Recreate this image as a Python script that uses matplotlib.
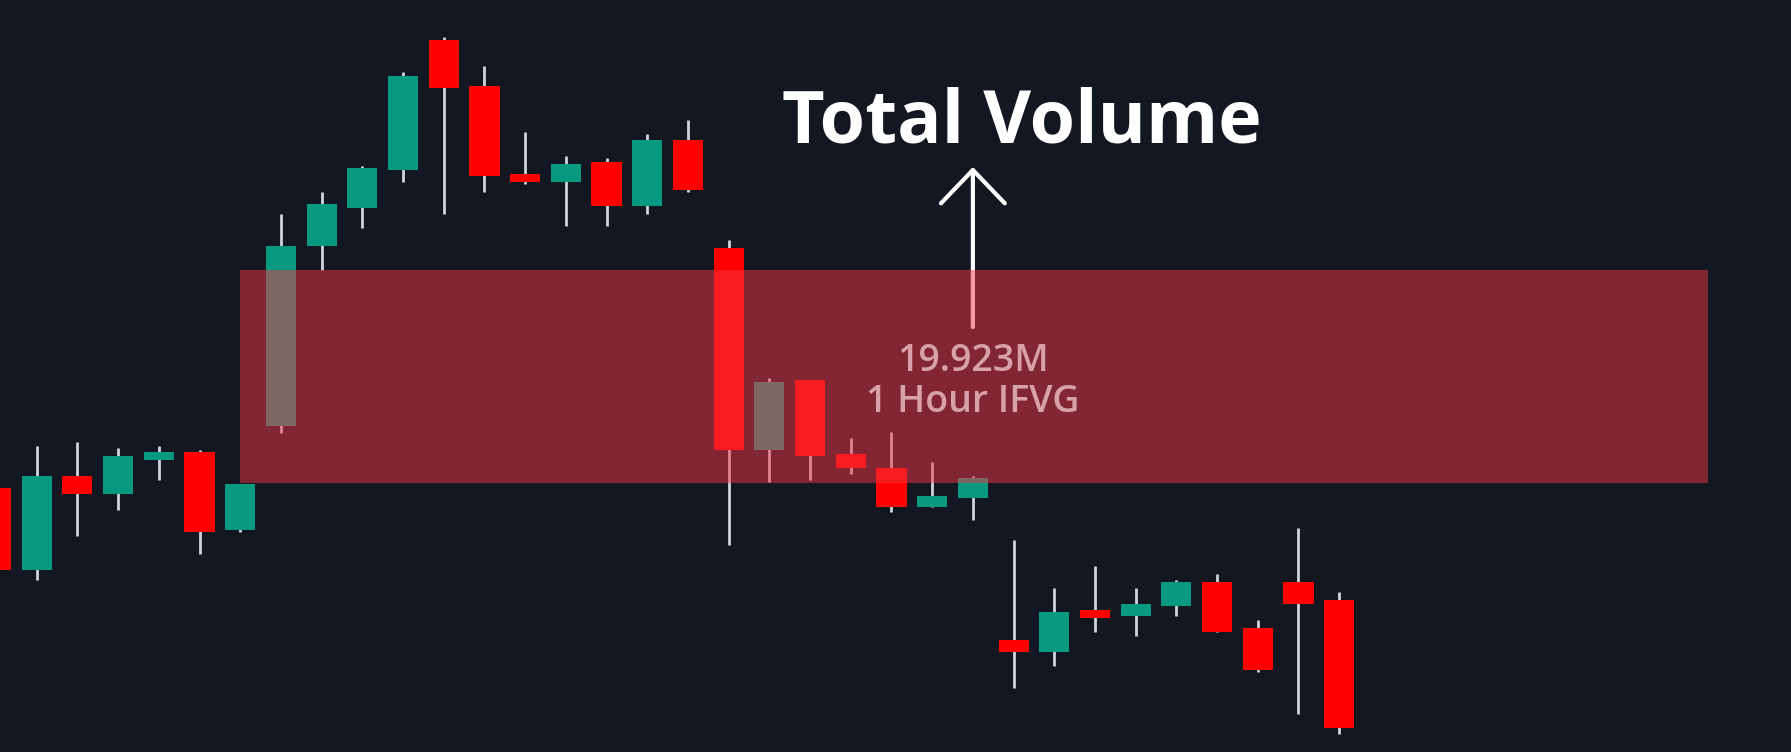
import numpy as np
import matplotlib
matplotlib.use("Agg")
from matplotlib import pyplot as plt
from matplotlib.patches import Rectangle

# candle data
opens  = [226.4, 218.2, 227.6, 225.8, 229.2, 230.0, 222.2, 232.6, 250.6, 254.4,
          258.2, 271.2, 266.6, 257.8, 257.0, 259.0, 254.6, 261.2, 250.4, 230.2,
          237.2, 229.8, 228.4, 224.5, 225.4, 211.2, 210.0, 214.2, 213.6, 214.6,
          217.0, 212.4, 217.0, 215.2]
highs  = [226.6, 230.6, 231.0, 230.4, 230.6, 230.2, 226.8, 253.8, 256.0, 258.6,
          268.0, 271.5, 268.6, 262.0, 259.6, 259.4, 261.8, 263.2, 251.2, 237.4,
          237.2, 231.4, 232.0, 229.0, 227.6, 221.2, 216.4, 218.6, 216.4, 217.2,
          217.8, 213.2, 222.4, 216.0]
lows   = [217.8, 217.2, 221.6, 224.2, 227.2, 219.8, 222.0, 231.9, 248.2, 252.4,
          257.0, 253.8, 256.0, 256.8, 252.6, 252.6, 253.8, 256.0, 220.7, 227.0,
          227.2, 227.8, 224.0, 224.5, 223.2, 206.4, 208.6, 212.0, 211.6, 213.6,
          212.0, 208.0, 203.8, 201.8]
closes = [218.2, 227.6, 225.8, 229.6, 230.0, 222.0, 226.8, 250.6, 254.8, 258.4,
          267.6, 266.4, 257.6, 257.0, 258.8, 254.6, 261.2, 256.2, 230.2, 237.0,
          229.6, 228.4, 224.5, 225.6, 227.4, 210.0, 214.0, 213.4, 214.8, 217.0,
          212.0, 208.2, 214.8, 202.4]

# IFVG zone
zone_start, zone_end = 6.0, 42.05
zone_low, zone_high = 226.9, 248.2
zone_volume = "19.923M"
zone_label = "1 Hour IFVG"
arrow_bar = 24

bg = "#131722"
up_col = "#089981"
dn_col = "#ff0000"
wick_col = "#d1d4dc"

fig = plt.figure(figsize=(17.91, 7.52), dpi=100, facecolor=bg)
ax = fig.add_axes([0, 0, 1, 1])
ax.set_facecolor(bg)

x = np.arange(len(opens))
w = 0.74
for i in x:
    o, h, l, c = opens[i], highs[i], lows[i], closes[i]
    col = up_col if c >= o else dn_col
    ax.vlines(i, l, h, color=wick_col, lw=2.0, zorder=2)
    ax.add_patch(Rectangle((i - w/2, min(o, c)), w, abs(c - o),
                           facecolor=col, edgecolor="none", zorder=3))

# arrow up to "Total Volume" (drawn under the zone)
ax.annotate("", xy=(arrow_bar, 258.5), xytext=(arrow_bar, 242.5),
            arrowprops=dict(arrowstyle="->,head_length=24,head_width=23",
                            mutation_scale=1, color="white", lw=3,
                            capstyle="round", shrinkA=0, shrinkB=0),
            zorder=4)

ax.add_patch(Rectangle((zone_start, zone_low), zone_end - zone_start,
                       zone_high - zone_low, facecolor="#f23645",
                       alpha=0.5, edgecolor="none", zorder=5))

ax.text(arrow_bar, 239.1, zone_volume, ha="center", va="center",
        fontsize=27, color="#d8a0a7", family="Open Sans", weight="semibold",
        zorder=6)
ax.text(arrow_bar, 234.95, zone_label, ha="center", va="center",
        fontsize=27, color="#d8a0a7", family="Open Sans", weight="semibold",
        zorder=6)
ax.text(25.2, 262.8, "Total Volume", ha="center", va="center",
        fontsize=53, color="white", family="Open Sans", weight="bold", zorder=6)

ax.set_xlim(0.098, 44.1)
ax.set_ylim(200, 275.2)
ax.axis("off")

fig.savefig("out.png", dpi=100, facecolor=bg)
